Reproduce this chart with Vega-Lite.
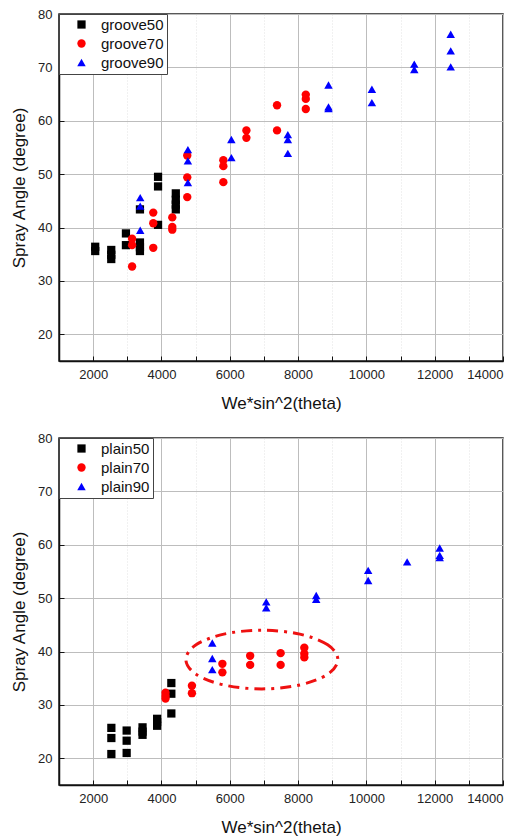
{
  "$schema": "https://vega.github.io/schema/vega-lite/v6.json",
  "padding": {"left": 9, "top": 7, "right": 10, "bottom": 2},
  "background": "white",
  "spacing": 19,
  "datasets": {
    "groove": [
      {"series": "groove50", "x": 2060, "y": 36.4},
      {"series": "groove50", "x": 2060, "y": 35.6},
      {"series": "groove50", "x": 2530, "y": 35.8},
      {"series": "groove50", "x": 2530, "y": 34.9},
      {"series": "groove50", "x": 2530, "y": 34.1},
      {"series": "groove50", "x": 2960, "y": 38.9},
      {"series": "groove50", "x": 2960, "y": 36.7},
      {"series": "groove50", "x": 3370, "y": 43.4},
      {"series": "groove50", "x": 3370, "y": 37.2},
      {"series": "groove50", "x": 3370, "y": 36.3},
      {"series": "groove50", "x": 3370, "y": 35.6},
      {"series": "groove50", "x": 3900, "y": 49.5},
      {"series": "groove50", "x": 3900, "y": 47.7},
      {"series": "groove50", "x": 3900, "y": 40.5},
      {"series": "groove50", "x": 4420, "y": 46.4},
      {"series": "groove50", "x": 4420, "y": 45.2},
      {"series": "groove50", "x": 4420, "y": 44.3},
      {"series": "groove50", "x": 4420, "y": 43.4},
      {"series": "groove70", "x": 3140, "y": 37.9},
      {"series": "groove70", "x": 3140, "y": 36.7},
      {"series": "groove70", "x": 3140, "y": 32.7},
      {"series": "groove70", "x": 3760, "y": 42.8},
      {"series": "groove70", "x": 3760, "y": 40.8},
      {"series": "groove70", "x": 3760, "y": 36.2},
      {"series": "groove70", "x": 4317, "y": 41.9},
      {"series": "groove70", "x": 4317, "y": 40.1},
      {"series": "groove70", "x": 4317, "y": 39.6},
      {"series": "groove70", "x": 4755, "y": 53.5},
      {"series": "groove70", "x": 4755, "y": 49.4},
      {"series": "groove70", "x": 4755, "y": 45.7},
      {"series": "groove70", "x": 5812, "y": 52.6},
      {"series": "groove70", "x": 5812, "y": 51.5},
      {"series": "groove70", "x": 5812, "y": 48.5},
      {"series": "groove70", "x": 6487, "y": 58.2},
      {"series": "groove70", "x": 6487, "y": 56.8},
      {"series": "groove70", "x": 7384, "y": 62.9},
      {"series": "groove70", "x": 7384, "y": 58.2},
      {"series": "groove70", "x": 8226, "y": 64.9},
      {"series": "groove70", "x": 8226, "y": 64.1},
      {"series": "groove70", "x": 8226, "y": 62.2},
      {"series": "groove90", "x": 3378, "y": 45.6},
      {"series": "groove90", "x": 3378, "y": 44.0},
      {"series": "groove90", "x": 3378, "y": 39.5},
      {"series": "groove90", "x": 4774, "y": 54.6},
      {"series": "groove90", "x": 4774, "y": 52.5},
      {"series": "groove90", "x": 4774, "y": 48.4},
      {"series": "groove90", "x": 6047, "y": 56.5},
      {"series": "groove90", "x": 6047, "y": 53.1},
      {"series": "groove90", "x": 7700, "y": 57.4},
      {"series": "groove90", "x": 7700, "y": 56.5},
      {"series": "groove90", "x": 7700, "y": 53.9},
      {"series": "groove90", "x": 8891, "y": 66.7},
      {"series": "groove90", "x": 8891, "y": 62.6},
      {"series": "groove90", "x": 8891, "y": 62.3},
      {"series": "groove90", "x": 10161, "y": 65.9},
      {"series": "groove90", "x": 10161, "y": 63.4},
      {"series": "groove90", "x": 11402, "y": 70.6},
      {"series": "groove90", "x": 11402, "y": 69.6},
      {"series": "groove90", "x": 12469, "y": 76.2},
      {"series": "groove90", "x": 12469, "y": 73.1},
      {"series": "groove90", "x": 12469, "y": 70.1}
    ],
    "plain": [
      {"series": "plain50", "x": 2533, "y": 25.7},
      {"series": "plain50", "x": 2533, "y": 23.8},
      {"series": "plain50", "x": 2533, "y": 20.8},
      {"series": "plain50", "x": 2981, "y": 25.2},
      {"series": "plain50", "x": 2981, "y": 23.3},
      {"series": "plain50", "x": 2981, "y": 21.0},
      {"series": "plain50", "x": 3446, "y": 25.8},
      {"series": "plain50", "x": 3446, "y": 25.0},
      {"series": "plain50", "x": 3446, "y": 24.4},
      {"series": "plain50", "x": 3873, "y": 27.4},
      {"series": "plain50", "x": 3873, "y": 26.8},
      {"series": "plain50", "x": 3873, "y": 26.1},
      {"series": "plain50", "x": 4289, "y": 34.1},
      {"series": "plain50", "x": 4289, "y": 32.1},
      {"series": "plain50", "x": 4289, "y": 28.4},
      {"series": "plain70", "x": 4119, "y": 32.3},
      {"series": "plain70", "x": 4119, "y": 31.7},
      {"series": "plain70", "x": 4119, "y": 31.2},
      {"series": "plain70", "x": 4892, "y": 33.6},
      {"series": "plain70", "x": 4892, "y": 32.2},
      {"series": "plain70", "x": 5784, "y": 37.7},
      {"series": "plain70", "x": 5784, "y": 36.1},
      {"series": "plain70", "x": 6597, "y": 39.2},
      {"series": "plain70", "x": 6597, "y": 37.5},
      {"series": "plain70", "x": 7489, "y": 39.7},
      {"series": "plain70", "x": 7489, "y": 37.5},
      {"series": "plain70", "x": 8183, "y": 40.7},
      {"series": "plain70", "x": 8183, "y": 39.6},
      {"series": "plain70", "x": 8183, "y": 38.9},
      {"series": "plain90", "x": 5488, "y": 41.6},
      {"series": "plain90", "x": 5488, "y": 38.7},
      {"series": "plain90", "x": 5488, "y": 36.6},
      {"series": "plain90", "x": 7068, "y": 49.3},
      {"series": "plain90", "x": 7068, "y": 48.2},
      {"series": "plain90", "x": 8531, "y": 50.5},
      {"series": "plain90", "x": 8531, "y": 49.8},
      {"series": "plain90", "x": 10052, "y": 55.2},
      {"series": "plain90", "x": 10052, "y": 53.3},
      {"series": "plain90", "x": 11193, "y": 56.8},
      {"series": "plain90", "x": 12147, "y": 59.4},
      {"series": "plain90", "x": 12147, "y": 58.0},
      {"series": "plain90", "x": 12147, "y": 57.6}
    ],
    "ellipse": [
      {"k": 0, "x": 9165, "y": 38.5},
      {"k": 1, "x": 8867, "y": 41.25},
      {"k": 2, "x": 8053, "y": 43.26},
      {"k": 3, "x": 6940, "y": 44.0},
      {"k": 4, "x": 5828, "y": 43.26},
      {"k": 5, "x": 5013, "y": 41.25},
      {"k": 6, "x": 4715, "y": 38.5},
      {"k": 7, "x": 5013, "y": 35.75},
      {"k": 8, "x": 5828, "y": 33.74},
      {"k": 9, "x": 6940, "y": 33.0},
      {"k": 10, "x": 8053, "y": 33.74},
      {"k": 11, "x": 8867, "y": 35.75}
    ]
  },
  "vconcat": [
    {
      "width": 444,
      "height": 347,
      "data": {"name": "groove"},
      "mark": {"type": "point", "filled": true, "opacity": 1},
      "encoding": {
        "x": {
          "field": "x",
          "type": "quantitative",
          "scale": {"domain": [1000, 14000], "nice": false},
          "axis": {"title": "We*sin^2(theta)"}
        },
        "y": {
          "field": "y",
          "type": "quantitative",
          "scale": {"domain": [15, 80], "nice": false},
          "axis": {"title": "Spray Angle (degree)"}
        },
        "color": {
          "field": "series",
          "type": "nominal",
          "scale": {"domain": ["groove50", "groove70", "groove90"], "range": ["#000000", "#ff0000", "#0000ff"]},
          "legend": {"title": null}
        },
        "shape": {
          "field": "series",
          "type": "nominal",
          "scale": {"domain": ["groove50", "groove70", "groove90"], "range": ["square", "circle", "triangle-up"]},
          "legend": {"title": null}
        },
        "size": {
          "field": "series",
          "type": "nominal",
          "scale": {"domain": ["groove50", "groove70", "groove90"], "range": [68, 72, 105]},
          "legend": null
        }
      }
    },
    {
      "width": 444,
      "height": 347,
      "encoding": {
        "x": {
          "field": "x",
          "type": "quantitative",
          "scale": {"domain": [1000, 14000], "nice": false},
          "axis": {"title": "We*sin^2(theta)"}
        },
        "y": {
          "field": "y",
          "type": "quantitative",
          "scale": {"domain": [15, 80], "nice": false},
          "axis": {"title": "Spray Angle (degree)"}
        }
      },
      "layer": [
        {
          "data": {"name": "ellipse"},
          "mark": {"type": "line", "color": "#ee1111", "strokeWidth": 3, "strokeDash": [11, 6, 3, 6], "interpolate": "cardinal-closed"},
          "encoding": {
            "order": {"field": "k"}
          }
        },
        {
          "data": {"name": "plain"},
          "mark": {"type": "point", "filled": true, "opacity": 1},
          "encoding": {
            "color": {
              "field": "series",
              "type": "nominal",
              "scale": {"domain": ["plain50", "plain70", "plain90"], "range": ["#000000", "#ff0000", "#0000ff"]},
              "legend": {"title": null}
            },
            "shape": {
              "field": "series",
              "type": "nominal",
              "scale": {"domain": ["plain50", "plain70", "plain90"], "range": ["square", "circle", "triangle-up"]},
              "legend": {"title": null}
            },
            "size": {
              "field": "series",
              "type": "nominal",
              "scale": {"domain": ["plain50", "plain70", "plain90"], "range": [68, 72, 105]},
              "legend": null
            }
          }
        }
      ]
    }
  ],
  "resolve": {
    "scale": {"color": "independent", "shape": "independent", "size": "independent"},
    "legend": {"color": "independent", "shape": "independent"}
  },
  "config": {
    "font": "Liberation Sans",
    "view": {"stroke": "#222222", "strokeWidth": 1.5},
    "axisX": {
      "values": [1000, 2000, 3000, 4000, 5000, 6000, 7000, 8000, 9000, 10000, 11000, 12000, 13000, 14000],
      "labelExpr": "datum.value % 2000 === 0 ? datum.value : ''",
      "labelPadding": 12,
      "titlePadding": 14
    },
    "axisY": {
      "values": [15, 20, 25, 30, 35, 40, 45, 50, 55, 60, 65, 70, 75, 80],
      "labelExpr": "datum.value % 10 === 0 ? datum.value : ''",
      "labelPadding": 12,
      "titlePadding": 9
    },
    "axis": {
      "domainColor": "#111111",
      "domainWidth": 1.5,
      "tickColor": "#111111",
      "tickSize": {"condition": {"test": "datum.value % 2 === 0", "value": -5}, "value": -3},
      "labelFont": "Liberation Sans",
      "labelFontSize": 13,
      "labelColor": "#222222",
      "titleFont": "Liberation Sans",
      "titleFontSize": 17,
      "titleFontWeight": "normal",
      "titleColor": "#111111",
      "grid": true,
      "gridColor": {"condition": {"test": "datum.value % 2000 === 0 || (datum.value < 100 && datum.value % 10 === 0)", "value": "#bdbdbd"}, "value": "#e2e2e2"},
      "gridDash": {"condition": {"test": "datum.value % 2000 === 0 || (datum.value < 100 && datum.value % 10 === 0)", "value": []}, "value": [1, 2]},
      "gridWidth": 1
    },
    "legend": {
      "orient": "top-left",
      "offset": 0,
      "padding": 3,
      "strokeColor": "#444444",
      "fillColor": "white",
      "labelFont": "Liberation Sans",
      "labelFontSize": 15,
      "labelColor": "#111111",
      "symbolSize": 60,
      "symbolOffset": 12,
      "labelOffset": 12,
      "rowPadding": 3,
      "symbolStrokeWidth": 0
    }
  }
}
